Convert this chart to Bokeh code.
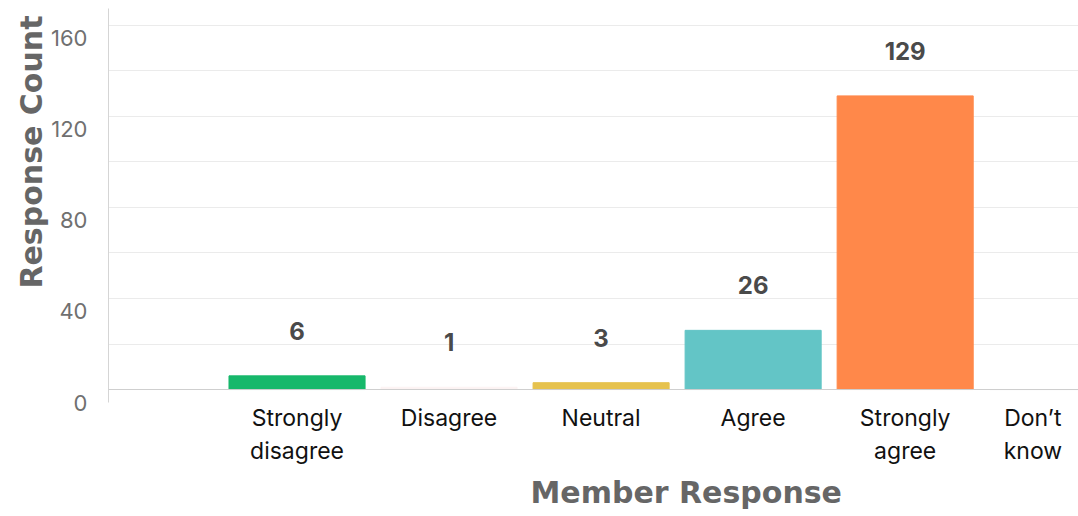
from bokeh.plotting import figure
from bokeh.models import ColumnDataSource, Range1d, LinearAxis, FixedTicker, Grid, Title, Span
from bokeh.core.properties import value
from bokeh.embed import file_html
from bokeh.resources import INLINE

categories = ["Strongly\ndisagree", "Disagree", "Neutral", "Agree", "Strongly\nagree", "Don\u2019t\nknow"]
counts = [6, 1, 3, 26, 129, 0]
colors = ["#17b86b", "#fcf3f3", "#e6c24e", "#63c5c6", "#ff884a", "#cccccc"]
value_labels = ["6", "1", "3", "26", "129", ""]
y_ticks = [0, 40, 80, 120, 160]
grid_ticks = [20, 40, 60, 80, 100, 120, 140, 160]

FONT = "Inter"
TITLE_FONT = "DejaVu Sans"
xs = list(range(len(categories)))
src = ColumnDataSource(dict(x=xs, top=counts, color=colors, label=value_labels))

LOW = -5.7
TOP = 167.4
p = figure(width=1078, height=516, x_range=Range1d(-1.24, 5.14), y_range=Range1d(LOW, TOP),
           output_backend="svg", toolbar_location=None, y_axis_location=None,
           min_border_left=108, min_border_right=0, min_border_top=8, min_border_bottom=114)
p.outline_line_color = None
for g in list(p.grid):
    g.visible = False

# label range shifted so tick labels sit a little below their gridlines
p.extra_y_ranges = {"lab": Range1d(LOW - LOW, TOP - LOW)}

p.add_layout(Grid(dimension=1, ticker=FixedTicker(ticks=grid_ticks), grid_line_color="#ebebeb",
                  grid_line_width=1))
p.add_layout(Span(location=0, dimension="width", line_color="#cfcfcf", line_width=1))

p.vbar(x="x", top="top", bottom=0, width=0.895, color="color", source=src)
p.text(x="x", y="top", text="label", source=src, y_offset=-45, text_align="center",
       text_baseline="middle", text_font=value(FONT), text_font_size="24px",
       text_font_style="bold", text_color="#4a4a4a")

# x axis
tick_pos = [float(i) for i in xs]
tick_pos[-1] = tick_pos[-1] - 0.16
xa = p.xaxis[0]
xa.ticker = FixedTicker(ticks=tick_pos)
xa.major_label_overrides = {tp: c for tp, c in zip(tick_pos, categories)}
xa.axis_line_color = None
xa.major_tick_line_color = None
xa.minor_tick_line_color = None
xa.major_label_standoff = -5
xa.major_label_text_font = FONT
xa.major_label_text_font_size = "23px"
xa.major_label_text_color = "#111111"

ya = LinearAxis(y_range_name="lab", ticker=FixedTicker(ticks=y_ticks))
ya.axis_line_color = "#d5d5d5"
ya.major_tick_line_color = None
ya.minor_tick_line_color = None
ya.major_label_standoff = 15
ya.major_label_text_font = FONT
ya.major_label_text_font_size = "22px"
ya.major_label_text_color = "#707070"
p.add_layout(ya, "left")

p.add_layout(Title(text="Response Count", align="right", offset=7, text_font=TITLE_FONT,
                   text_font_size="30px", text_font_style="bold", text_color="#666666",
                   standoff=0), "left")
p.add_layout(Title(text="Member Response", align="left", offset=422, text_font=TITLE_FONT,
                   text_font_size="30px", text_font_style="bold", text_color="#666666",
                   standoff=9), "below")

open("out.html", "w").write(file_html(p, INLINE))
